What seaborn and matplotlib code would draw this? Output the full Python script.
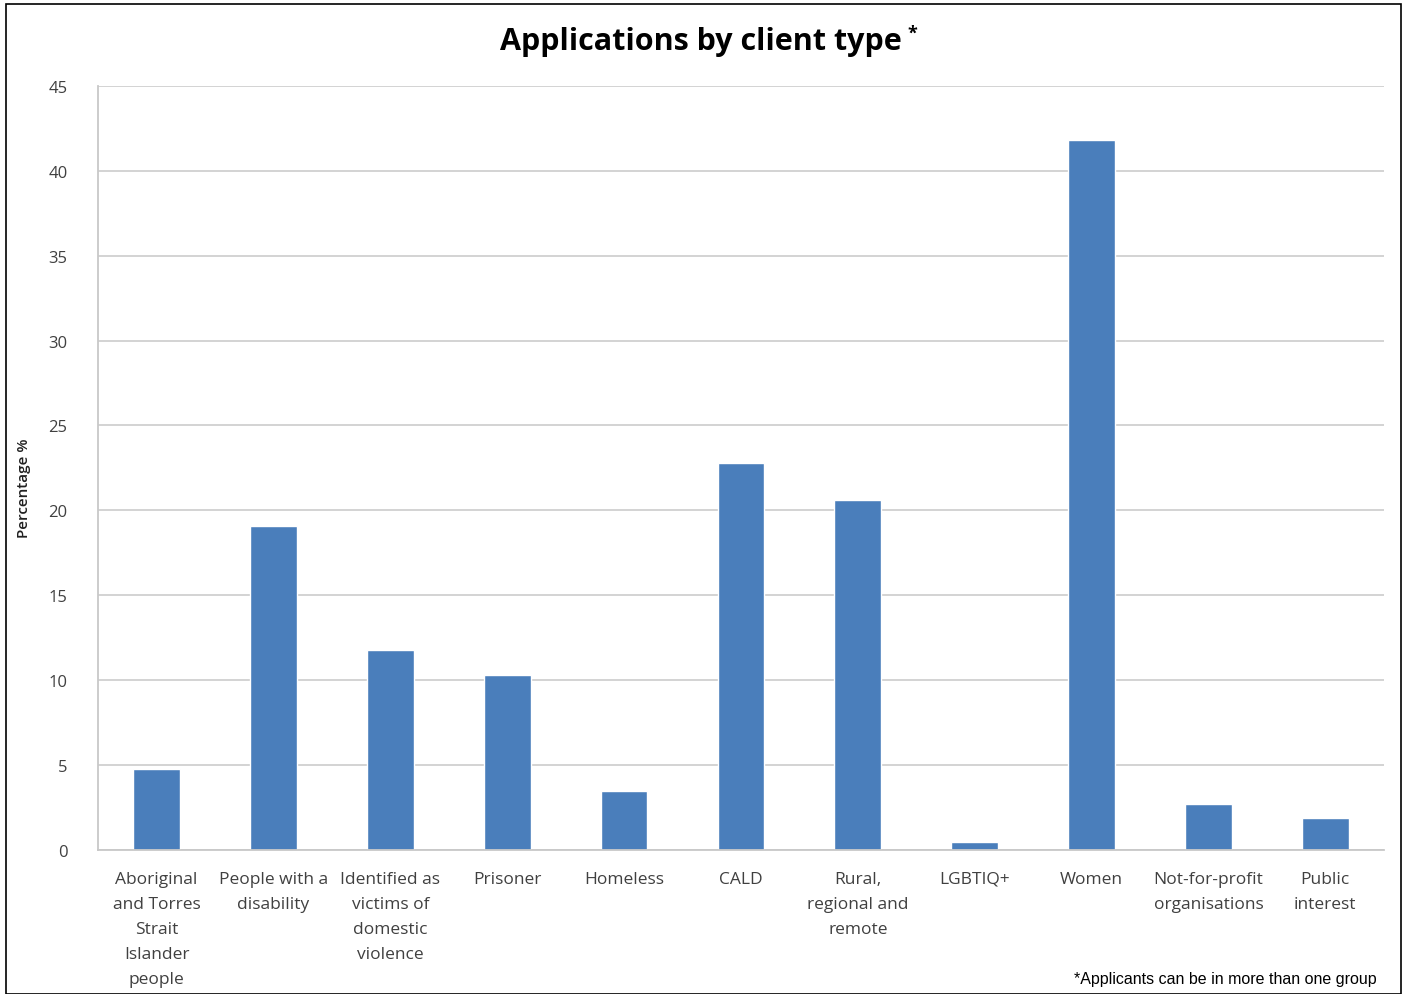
import matplotlib
matplotlib.use("Agg")
import matplotlib.pyplot as plt
import seaborn as sns
import pandas as pd
from matplotlib.patches import Rectangle

# data
categories = [
    "Aboriginal\nand Torres\nStrait\nIslander\npeople",
    "People with a\ndisability",
    "Identified as\nvictims of\ndomestic\nviolence",
    "Prisoner",
    "Homeless",
    "CALD",
    "Rural,\nregional and\nremote",
    "LGBTIQ+",
    "Women",
    "Not-for-profit\norganisations",
    "Public\ninterest",
]
percentages = [4.8, 19.1, 11.8, 10.3, 3.5, 22.8, 20.6, 0.5, 41.8, 2.7, 1.9]
yticks = [0, 5, 10, 15, 20, 25, 30, 35, 40, 45]

df = pd.DataFrame({"client": categories, "pct": percentages})

sns.set_style("white")
plt.rcParams["font.family"] = ["Open Sans", "DejaVu Sans"]

fig = plt.figure(figsize=(14.02, 9.95), dpi=100)
ax = fig.add_axes([0.07, 0.1447, 0.917, 0.768])

sns.barplot(data=df, x="client", y="pct", color="#4a7ebb", saturation=1,
            width=0.4, ax=ax)

ax.set_ylim(0, 45)
ax.set_yticks(yticks)
ax.set_yticklabels([str(t) for t in yticks], fontsize=12, color="#404040")
ax.set_xlim(-0.5, len(categories) - 0.5)
ax.tick_params(axis="x", labelsize=12.5, colors="#404040", length=0, pad=15)
ax.tick_params(axis="y", length=0, pad=22)
for lbl in ax.get_xticklabels():
    lbl.set_linespacing(1.75)
ax.grid(axis="y", color="#d0d0d0", linewidth=1.3)
ax.set_axisbelow(True)
for s in ["top", "right"]:
    ax.spines[s].set_visible(False)
ax.spines["left"].set_color("#c8c8c8")
ax.spines["bottom"].set_color("#c8c8c8")
ax.spines["left"].set_linewidth(1.3)
ax.spines["bottom"].set_linewidth(1.3)

ax.set_xlabel("")
ax.set_ylabel("Percentage %", fontsize=11, color="#202020", labelpad=2,
              fontweight="semibold")
ax.yaxis.set_label_coords(-0.052, 0.475)

fig.text(0.5, 0.958, "Applications by client type", ha="center", va="center",
         fontsize=22, fontweight="bold", color="black")
fig.text(0.647, 0.966, "*", ha="left", va="center", fontsize=13,
         fontweight="bold", color="black")
fig.text(0.982, 0.016, "*Applicants can be in more than one group", ha="right",
         va="center", fontsize=11.5, family=["Liberation Sans"], color="black")

# outer frame
fig.patches.append(Rectangle((0.004, 0.0), 0.995, 0.995, transform=fig.transFigure,
                             fill=False, edgecolor="black", linewidth=1.2))

plt.savefig("out.png", dpi=100)
